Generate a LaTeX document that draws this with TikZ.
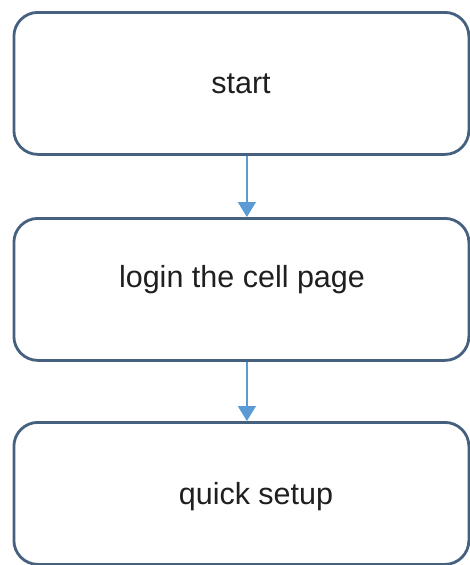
\documentclass[tikz,border=0pt]{standalone}
\usepackage{fontspec}
\setmainfont{Liberation Sans}
\usetikzlibrary{arrows.meta}
\definecolor{boxborder}{HTML}{46617F}
\definecolor{arrowblue}{HTML}{5B9BD5}
\begin{document}
\begin{tikzpicture}[x=1pt,y=-1pt,
  box/.style={draw=boxborder, line width=2.8pt, rounded corners=24pt, fill=white,
              minimum width=455pt, minimum height=142pt, anchor=north west, inner sep=0pt},
  lbl/.style={font=\fontsize{30.5}{36}\selectfont, text=black!88, inner sep=0pt},
  conn/.style={draw=arrowblue, line width=1.5pt, -{Triangle[width=18pt,length=15pt]}}]
\useasboundingbox (0,0) rectangle (469,565);
\node[box] (b1) at (12.5,11) {};
\node[box] (b2) at (12.5,217) {};
\node[box] (b3) at (12.5,421) {};
\node[lbl] (t1) at (241,84) {start};
\node[lbl] (t2) at (242,280) {login the cell page};
\node[lbl] (t3) at (256,497) {quick setup};
\draw[conn] ([xshift=5.5pt]b1.south) -- ([xshift=5.5pt]b2.north);
\draw[conn] ([xshift=5.5pt]b2.south) -- ([xshift=5.5pt]b3.north);
\end{tikzpicture}
\end{document}
